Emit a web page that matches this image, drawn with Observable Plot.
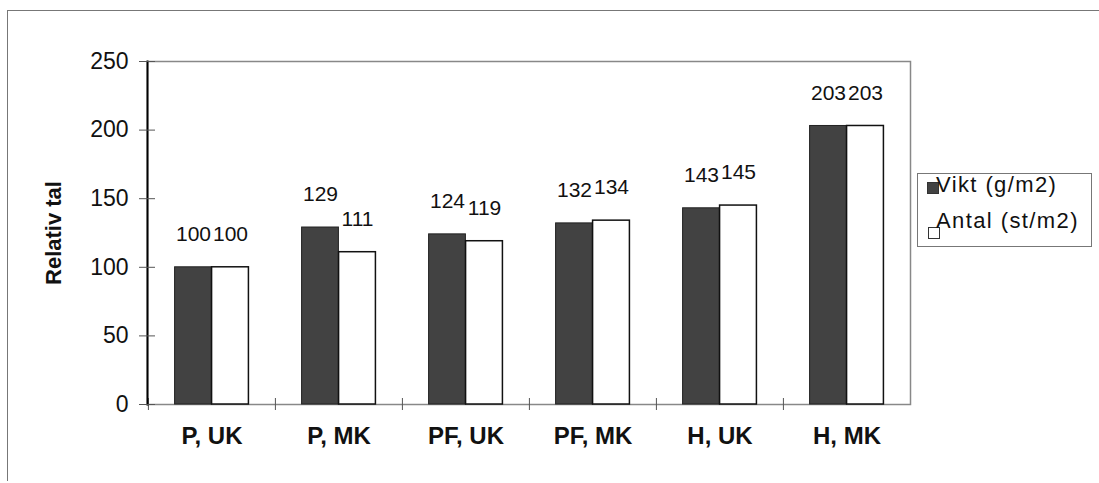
<!DOCTYPE html>
<html><head><meta charset="utf-8">
<script src="https://cdn.jsdelivr.net/npm/d3@7"></script>
<script src="https://cdn.jsdelivr.net/npm/@observablehq/plot@0.6"></script>
<style>
body{margin:0;background:#fff;}
#wrap{position:relative;width:1099px;height:483px;overflow:hidden;font-family:"Liberation Sans",Arial,sans-serif;background:#fff;}
#border{position:absolute;left:7px;top:10px;width:1100px;height:470px;border-left:1.5px solid #777;border-top:1.5px solid #777;}
#chart{position:absolute;left:0;top:0;}
#legend{position:absolute;left:917px;top:173px;width:175px;height:74px;border:1px solid #777;box-sizing:border-box;}
.sw{position:absolute;width:10px;height:10px;border:1px solid #333;box-sizing:content-box;}
.lt{position:absolute;font-size:22px;line-height:22px;letter-spacing:1.4px;white-space:nowrap;color:#111;}
</style>
</head><body>
<div id="wrap"><div id="border"></div><div id="chart"></div><div id="legend"></div></div>
<script>
const categories = ["P, UK", "P, MK", "PF, UK", "PF, MK", "H, UK", "H, MK"];
const series = ["Vikt (g/m2)", "Antal (st/m2)"];
const vikt = [100, 129, 124, 132, 143, 203];
const antal = [100, 111, 119, 134, 145, 203];
const yTicks = [0, 50, 100, 150, 200, 250];
const yLabel = "Relativ tal";
const colors = ["#424242", "#ffffff"];

const dark = categories.map((c, i) => ({cat: c, series: series[0], value: vikt[i]}));
const light = categories.map((c, i) => ({cat: c, series: series[1], value: antal[i]}));

const W = 1099, H = 483, mL = 147, mR = 189, mT = 61, mB = 79;
const bw = (W - mL - mR) / categories.length;
const barW = 37;

const chart = Plot.plot({
  width: W, height: H,
  marginLeft: mL, marginRight: mR, marginTop: mT, marginBottom: mB,
  style: {fontFamily: "Liberation Sans, Arial, sans-serif", fontSize: "22px", background: "transparent", color: "#111"},
  x: {domain: categories, padding: 0, label: null},
  y: {domain: [0, 250], label: null},
  marks: [
    Plot.frame({stroke: "#888", strokeWidth: 1.5}),
    Plot.barY(dark, {x: "cat", y: "value", fill: colors[0], stroke: "#222", strokeWidth: 1, insetLeft: bw / 2 - barW, insetRight: bw / 2}),
    Plot.barY(light, {x: "cat", y: "value", fill: colors[1], stroke: "#111", strokeWidth: 1.5, insetLeft: bw / 2, insetRight: bw / 2 - barW}),
    Plot.text(dark, {x: "cat", y: "value", text: d => String(d.value), dx: -barW / 2, dy: -33, fontSize: 21, fill: "#111"}),
    Plot.text(light, {x: "cat", y: "value", text: d => String(d.value), dx: barW / 2, dy: -33, fontSize: 21, fill: "#111"}),
    Plot.ruleX(categories, {x: d => d, y1: 0, y2: 0, dx: -bw / 2, insetTop: -6, insetBottom: -6, stroke: "#555"}),
    Plot.frame({anchor: "left", stroke: "#000", strokeWidth: 2}),
    Plot.axisY({ticks: yTicks, tickSize: 8, tickPadding: 11, fontSize: 23, stroke: "#555"}),
    Plot.axisY({ticks: yTicks, tickSize: -8, tickFormat: () => "", stroke: "#555"}),
    Plot.axisX({tickSize: 0, tickPadding: 22, fontSize: 24, fontWeight: "bold", style: {letterSpacing: "0.8px"}}),
    Plot.text([yLabel], {frameAnchor: "left", textAnchor: "middle", rotate: -90, dx: -94, fontSize: 22, fontWeight: "bold", fill: "#111"})
  ]
});
document.getElementById("chart").appendChild(chart);

const legend = document.getElementById("legend");
const rows = [{sw: [9, 8], tx: [18, 0]}, {sw: [10, 53], tx: [18, 36]}];
series.forEach((s, i) => {
  const sw = document.createElement("div");
  sw.className = "sw";
  sw.style.left = rows[i].sw[0] + "px";
  sw.style.top = rows[i].sw[1] + "px";
  sw.style.background = colors[i];
  legend.appendChild(sw);
  const t = document.createElement("div");
  t.className = "lt";
  t.style.left = rows[i].tx[0] + "px";
  t.style.top = rows[i].tx[1] + "px";
  t.textContent = s;
  legend.appendChild(t);
});
</script>
</body></html>
